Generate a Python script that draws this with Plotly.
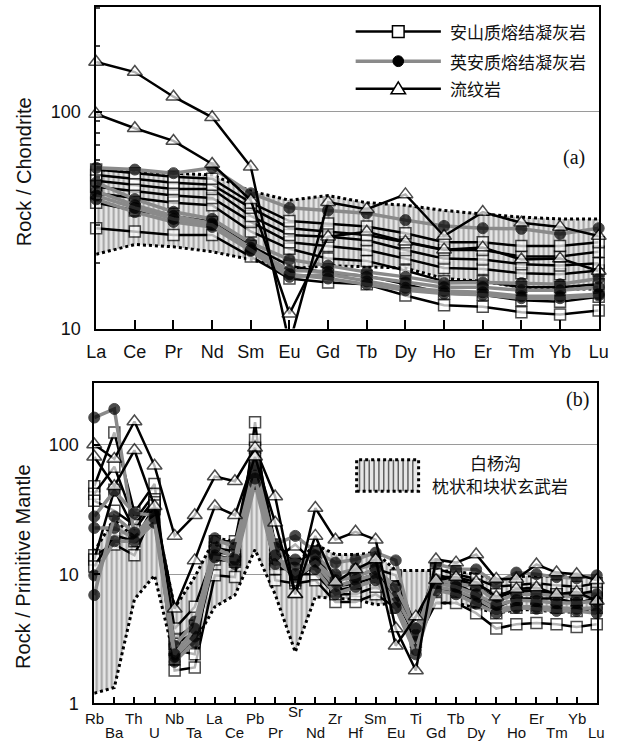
import plotly.graph_objects as go

W, H = 630, 749


def px(x):
    return x / W


def py(y):
    return 1 - y / H


# ---------------- DATA ----------------
ree_labels = ["La", "Ce", "Pr", "Nd", "Sm", "Eu", "Gd", "Tb", "Dy", "Ho", "Er", "Tm", "Yb", "Lu"]

# Baiyanggou pillow & massive basalt field (chondrite normalised)
ree_field_upper = [54, 53, 52, 51, 43, 39, 41, 38, 37, 35, 33.7, 32.6, 32, 32]
ree_field_lower = [22, 24.4, 23.8, 22.6, 20.8, 18.8, 19.5, 19.3, 19, 17, 16.5, 15.5, 15.2, 15.2]

ree_andesite = [
    [29, 28, 27, 27, 21.5, 17, 16.3, 16, 14.2, 12.8, 12.6, 11.9, 11.6, 12.1],
    [38, 35, 33, 31, 24, 19.5, 18, 17.5, 16, 14.5, 14.3, 13.5, 13.3, 14],
    [42, 40, 38, 37, 28, 23.3, 21, 20.5, 18.5, 16.5, 16.5, 15.5, 15.5, 16],
    [45, 43, 41, 40, 31, 25, 24, 23, 21, 19, 18.8, 18, 17.8, 18.5],
    [48, 46, 44, 44, 33, 27, 26.5, 25.5, 23, 21, 20.8, 19.8, 19.5, 20],
    [51, 49, 47, 46, 36, 29, 28, 27, 25, 23, 23, 21.5, 21.5, 22.6],
    [54, 52, 50, 49, 38, 31.3, 30.5, 29.5, 27.5, 25, 25, 24, 24, 25],
]
ree_dacite = [
    [55, 54, 52, 55, 42, 36, 35, 34, 31.6, 29.7, 29, 28.8, 27.3, 29],
    [47, 39.5, 34.5, 32, 24.8, 20.8, 19.5, 18.2, 17.3, 16.2, 16.3, 16.2, 16, 17],
    [43, 37, 33, 30.5, 23.5, 18.5, 18.3, 17.3, 16.3, 15.5, 15.5, 15, 15, 15.5],
    [39.4, 34.4, 31, 29.4, 22.8, 17.3, 17.8, 16.5, 15.4, 14.9, 14.7, 14.1, 14.1, 14.4],
    [41, 36, 32, 30, 23, 17.8, 17, 16, 15, 14.5, 14.3, 13.8, 13.8, 14.2],
]
ree_rhyolite = [
    [169, 152, 117, 94, 55.6, 8.5, 38.2, 35.5, 41.5, 26.7, 34.4, 30.7, 29.4, 26.7],
    [97.5, 83.7, 73.2, 57.3, 39, 11.7, 26.5, 27.9, 25.1, 23.1, 23.6, 20.8, 21, 18.4],
]

spider_labels = ["Rb", "Ba", "Th", "U", "Nb", "Ta", "La", "Ce", "Pb", "Pr", "Sr", "Nd", "Zr",
                 "Hf", "Sm", "Eu", "Ti", "Gd", "Tb", "Dy", "Y", "Ho", "Er", "Tm", "Yb", "Lu"]

spider_field_upper = [15, 27, 19, 31, 5.5, 9.5, 19, 18, 55, 18, 12, 17, 14.2, 14.2, 14.7,
                      10.7, 10.7, 10.7, 10.5, 10, 9, 9.5, 9.8, 9.5, 9.5, 9.5]
spider_field_lower = [1.2, 1.33, 6.4, 9.8, 2.2, 3.0, 5.6, 6.9, 15.5, 7.0, 2.5, 6.7, 6.5, 6.4,
                      5.8, 6.0, 4.5, 6, 6, 5.5, 5, 5.3, 5.3, 5.1, 5.1, 5.2]

spider_andesite = [
    [14, 17, 14, 32, 1.8, 1.9, 9.8, 9.5, 150, 9.0, 8.5, 9.0, 6.1, 6.1, 7.0, 5.5, 3.0, 6.0, 6.0, 5.0, 3.8, 4.1, 4.2, 4.1, 3.9, 4.1],
    [48, 125, 30, 50, 2.6, 2.4, 18, 18, 110, 17, 12, 15, 8, 9, 10, 8, 3.5, 9.5, 9.5, 8, 6.5, 7.5, 7.5, 7, 7, 7.5],
    [42, 68, 26, 42, 3.2, 4, 16, 15, 95, 14, 9, 12, 7.5, 8, 9, 7, 3.3, 8.5, 8.5, 7, 5.5, 6.5, 6.5, 6.5, 6, 6.5],
    [37, 31, 24, 38, 2.2, 3.0, 13, 12.5, 80, 12, 10, 10, 7, 7, 8, 6.5, 3.2, 7.5, 7.5, 6.2, 5, 5.5, 5.5, 5.5, 5.2, 5.5],
    [13, 45, 22, 36, 3.8, 5.6, 15, 14, 70, 13, 17, 12, 9, 9.5, 11, 9.8, 3.8, 11, 10, 9.2, 8.0, 8.2, 8.5, 8.2, 8, 8.5],
    [11.5, 20, 18, 34, 2.9, 3.5, 14, 13, 60, 11, 11, 11, 8, 8.5, 9.5, 7.5, 3.6, 10, 9, 8.3, 7, 7.2, 7.5, 7.0, 7, 7.2],
]
spider_dacite = [
    [163, 190, 20, 30, 2.1, 3.0, 18, 17, 62, 17, 19.8, 15, 12.3, 13, 14.7, 12.8, 3.0, 12, 11, 10.9, 8.5, 10.3, 10, 9.5, 9.3, 9.8],
    [28, 44, 29.7, 28.6, 2.5, 3.6, 19, 16, 70, 16, 11.7, 14, 10, 11, 12, 6.7, 3.4, 9, 8.5, 8, 6.2, 7, 7, 6.8, 6.7, 7],
    [22.8, 22.8, 19.2, 26, 2.8, 4.3, 16, 13.5, 58, 13, 9.5, 12, 8, 9, 10, 6, 2.6, 8, 7.5, 6.5, 5.4, 5.6, 5.6, 5.5, 5.4, 5.5],
    [9.8, 18, 18, 25, 2.3, 3.3, 14, 12, 50, 12, 13, 11, 7, 8, 9, 5.5, 2.4, 7.5, 7, 5.9, 5, 5.5, 5.4, 5.2, 5.2, 5.0],
    [6.9, 28, 21, 27, 2.4, 3.8, 13.5, 13, 55, 14, 10, 12.5, 9, 9.5, 11, 8, 3.8, 8.5, 8, 7, 5.8, 6.3, 6.2, 6, 6, 6.2],
]
spider_rhyolite = [
    [101, 78, 152, 69, 19.8, 28.6, 57, 52.4, 95, 40, 7.0, 32.5, 18.5, 21.3, 18.5, 3.8, 1.8, 13, 12.3, 14.2, 9.2, 9.2, 11.9, 10.3, 10.0, 9.0],
    [81, 48, 91, 33.6, 5.4, 12.8, 33.6, 28.6, 81, 25, 7.0, 19.8, 8.7, 10.9, 13, 2.8, 4.7, 9.0, 9.5, 8.7, 6.7, 7.7, 7.9, 7.0, 7.3, 6.2],
]

legend_names = ["安山质熔结凝灰岩", "英安质熔结凝灰岩", "流纹岩"]
field_name = ["白杨沟", "枕状和块状玄武岩"]

# ---------------- STYLES ----------------
GRAY_LINE = "#8a8a8a"
STY = {
    "andesite": dict(line=dict(color="black", width=2.5),
                     marker=dict(symbol="square", size=11, color="white",
                                 line=dict(color="black", width=1.5))),
    "dacite": dict(line=dict(color=GRAY_LINE, width=3.5),
                   marker=dict(symbol="circle", size=11, color="black",
                               line=dict(color="black", width=1))),
    "rhyolite": dict(line=dict(color="black", width=2.5),
                     marker=dict(symbol="triangle-up", size=13, color="white",
                                 line=dict(color="black", width=1.5))),
}
FIELD_LINE = dict(color="black", width=3, dash="dot")
FILL_BG = "#e6e6e6"
HATCH = "#606060"
FILLPAT = dict(shape="|", fgcolor=HATCH, bgcolor=FILL_BG, size=5, solidity=0.4)

fig = go.Figure()


def add_field(labels, lower, upper, xa, ya):
    fig.add_trace(go.Scatter(x=labels, y=lower, mode="lines", line=FIELD_LINE,
                             xaxis=xa, yaxis=ya, showlegend=False, hoverinfo="skip"))
    fig.add_trace(go.Scatter(x=labels, y=upper, mode="lines", line=FIELD_LINE,
                             fill="tonexty", fillcolor=FILL_BG, fillpattern=FILLPAT,
                             xaxis=xa, yaxis=ya, showlegend=False, hoverinfo="skip"))


def add_group(labels, series, kind, xa, ya, ymin):
    st = STY[kind]
    for vals in series:
        m = dict(st["marker"])
        m["size"] = [st["marker"]["size"] if v >= ymin else 0 for v in vals]
        fig.add_trace(go.Scatter(x=labels, y=vals, mode="lines+markers",
                                 line=st["line"], marker=m, cliponaxis=False,
                                 xaxis=xa, yaxis=ya, showlegend=False, hoverinfo="skip"))


# panel (a)
add_field(ree_labels, ree_field_lower, ree_field_upper, "x", "y")
add_group(ree_labels, ree_andesite, "andesite", "x", "y", 10)
add_group(ree_labels, ree_dacite, "dacite", "x", "y", 10)
add_group(ree_labels, ree_rhyolite, "rhyolite", "x", "y", 10)

# panel (b)
add_field(spider_labels, spider_field_lower, spider_field_upper, "x2", "y2")
add_group(spider_labels, spider_andesite, "andesite", "x2", "y2", 1)
add_group(spider_labels, spider_dacite, "dacite", "x2", "y2", 1)
add_group(spider_labels, spider_rhyolite, "rhyolite", "x2", "y2", 1)

FONT = "Liberation Sans, Arial, sans-serif"
CJK = "Noto Sans CJK SC"
TXT = "#111111"

axis_line = dict(showline=True, mirror=True, linecolor="black", linewidth=1.5, zeroline=False)

layout = dict(
    width=W, height=H, margin=dict(l=0, r=0, t=0, b=0),
    paper_bgcolor="white", plot_bgcolor="white", showlegend=False,
    font=dict(family=FONT, color=TXT),
    xaxis=dict(domain=[px(89), px(608)], anchor="y", type="category",
               range=[0, len(ree_labels) - 1], ticks="inside", ticklen=9, tickwidth=1.5,
               tickcolor="black", tickfont=dict(size=18, family=FONT, color=TXT),
               ticklabelstandoff=6, showgrid=False, **axis_line),
    yaxis=dict(domain=[py(333), py(7)], anchor="x", type="log", range=[1, 2.482],
               tickvals=[10, 100], ticktext=["10", "100"], ticks="inside", ticklen=6,
               tickwidth=1.5, tickcolor="black",
               tickfont=dict(size=18, family=FONT, color=TXT), ticklabelstandoff=10,
               minor=dict(ticks="inside", ticklen=4, tickcolor="#444", dtick="D1"),
               showgrid=True, gridcolor="#9a9a9a", **axis_line),
    xaxis2=dict(domain=[px(87), px(606)], anchor="y2", type="category",
                range=[0, len(spider_labels) - 1], ticks="inside", ticklen=7, tickwidth=1.5,
                tickcolor="black", showticklabels=False, showgrid=False, **axis_line),
    yaxis2=dict(domain=[py(713), py(388)], anchor="x2", type="log", range=[0, 2.481],
                tickvals=[1, 10, 100], ticktext=["1", "10", "100"], ticks="inside", ticklen=6,
                tickwidth=1.5, tickcolor="black",
                tickfont=dict(size=18, family=FONT, color=TXT), ticklabelstandoff=10,
                showgrid=True, gridcolor="#9a9a9a", **axis_line),
)
fig.update_layout(**layout)

annotations = []
shapes = []


def note(x, y, text, size, family=FONT, xanchor="center", angle=0, xref="paper"):
    annotations.append(dict(x=x, y=py(y), xref=xref, yref="paper", text=text,
                            showarrow=False, xanchor=xanchor, yanchor="middle",
                            textangle=angle, font=dict(size=size, family=family, color=TXT)))


# spider tick labels at alternating heights
for i, lab in enumerate(spider_labels):
    if lab == "Sr":
        yy = 721
    elif i % 2 == 0:
        yy = 728
    else:
        yy = 742
    note(lab, yy, lab, 15, xref="x2")

# axis titles
note(px(14), 174, "Rock / Chondrite", 20, angle=-90)
note(px(14), 574, "Rock / Primitive Mantle", 20, angle=-90)

# panel letters
note(px(583), 160, "(a)", 20, family="Liberation Serif")
note(px(586), 405, "(b)", 20, family="Liberation Serif")

# legend (a)
leg_y = [32, 62, 90]
leg_color = ["black", GRAY_LINE, "black"]
leg_w = [2.5, 3.5, 2.5]
for k, (yy, name) in enumerate(zip(leg_y, legend_names)):
    shapes.append(dict(type="line", xref="paper", yref="paper", x0=px(357), x1=px(445),
                       y0=py(yy), y1=py(yy), line=dict(color=leg_color[k], width=leg_w[k])))
    if k == 0:
        shapes.append(dict(type="rect", xref="paper", yref="paper", x0=px(395), x1=px(407),
                           y0=py(yy + 6), y1=py(yy - 6), fillcolor="white",
                           line=dict(color="black", width=1.5)))
    elif k == 1:
        shapes.append(dict(type="circle", xref="paper", yref="paper", x0=px(395.5), x1=px(406.5),
                           y0=py(yy + 5.5), y1=py(yy - 5.5), fillcolor="black",
                           line=dict(color="black", width=1)))
    else:
        path = "M {:.5f},{:.5f} L {:.5f},{:.5f} L {:.5f},{:.5f} Z".format(
            px(401), py(yy - 7), px(393.5), py(yy + 5), px(408.5), py(yy + 5))
        shapes.append(dict(type="path", xref="paper", yref="paper", path=path,
                           fillcolor="white", line=dict(color="black", width=1.5)))
    note(px(452), yy, name, 17, family=CJK, xanchor="left")

# legend (b): hatched box
bx0, bx1, by0, by1 = 358, 422, 466, 498
shapes.append(dict(type="rect", xref="paper", yref="paper", x0=px(bx0), x1=px(bx1),
                   y0=py(by1), y1=py(by0), fillcolor=FILL_BG, line=dict(width=0)))
xx = bx0 + 3
while xx < bx1 - 1:
    shapes.append(dict(type="line", xref="paper", yref="paper", x0=px(xx), x1=px(xx),
                       y0=py(by1), y1=py(by0), line=dict(color=HATCH, width=1.5)))
    xx += 5
shapes.append(dict(type="rect", xref="paper", yref="paper", x0=px(bx0), x1=px(bx1),
                   y0=py(by1), y1=py(by0), line=dict(color="black", width=3, dash="dot")))
note(px(501), 469, field_name[0], 17, family=CJK)
note(px(506), 492, field_name[1], 17, family=CJK)

fig.update_layout(annotations=annotations, shapes=shapes)

fig.write_html("out.html")
